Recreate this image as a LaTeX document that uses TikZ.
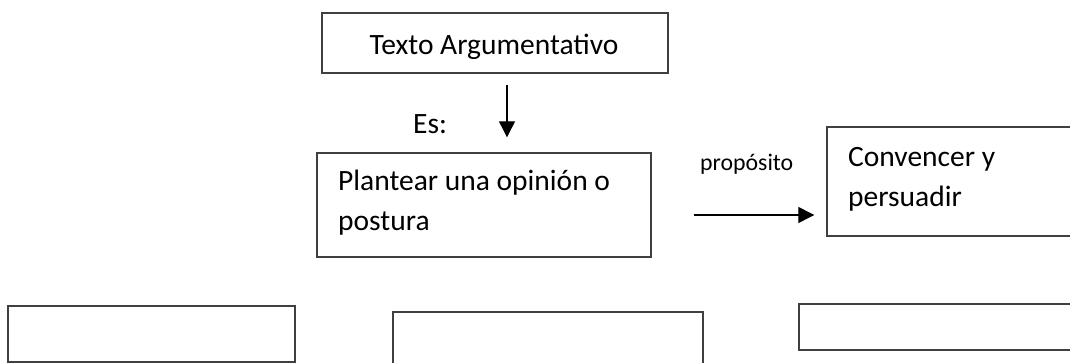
\documentclass[tikz,border=0pt]{standalone}
\usepackage{fontspec}
\setmainfont{Carlito}
\usetikzlibrary{arrows.meta}
\begin{document}
\begin{tikzpicture}[x=1pt,y=-1pt,
  box/.style={draw=black!75, line width=1.4pt, rectangle, inner sep=0pt},
  big/.style={font=\fontsize{29.5}{40}\selectfont, inner sep=0pt, align=left},
  small/.style={font=\fontsize{23.8}{28}\selectfont, inner sep=0pt},
  arr/.style={-{Triangle[length=16pt,width=16pt]}, line width=1.2pt, black}]
\useasboundingbox (0,0) rectangle (1070,363);
% boxes
\node[box, minimum width=346pt, minimum height=60pt] (top) at (495,43) {};
\node[box, minimum width=334pt, minimum height=104pt] (plan) at (484,205) {};
\node[box, minimum width=253pt, minimum height=109pt] (conv) at (953.5,181.5) {};
\node[box, minimum width=287pt, minimum height=56pt] (b1) at (151.5,334) {};
\node[box, minimum width=310pt, minimum height=68pt] (b2) at (548,346) {};
\node[box, minimum width=281pt, minimum height=46pt] (b3) at (939.5,327) {};
% texts
\node[big, anchor=base] (ttop) at (494,55) {Texto Argumentativo};
\node[big, anchor=base west] (tplan) at (338,231) {Plantear una opinión o\\postura};
\node[big, anchor=base west] (tconv) at (848,207) {Convencer y\\persuadir};
\node[big, anchor=base west] (tes) at (413,134) {Es:};
\node[small, anchor=base west] (tprop) at (700,171) {propósito};
% connectors
\coordinate (xa) at (507,0);
\coordinate (ya) at (0,215);
\draw[arr, shorten <=11pt, shorten >=15pt] (top.south -| xa) -- (plan.north -| xa);
\draw[arr, shorten <=42pt, shorten >=12pt] (plan.east |- ya) -- (conv.west |- ya);
\end{tikzpicture}
\end{document}
